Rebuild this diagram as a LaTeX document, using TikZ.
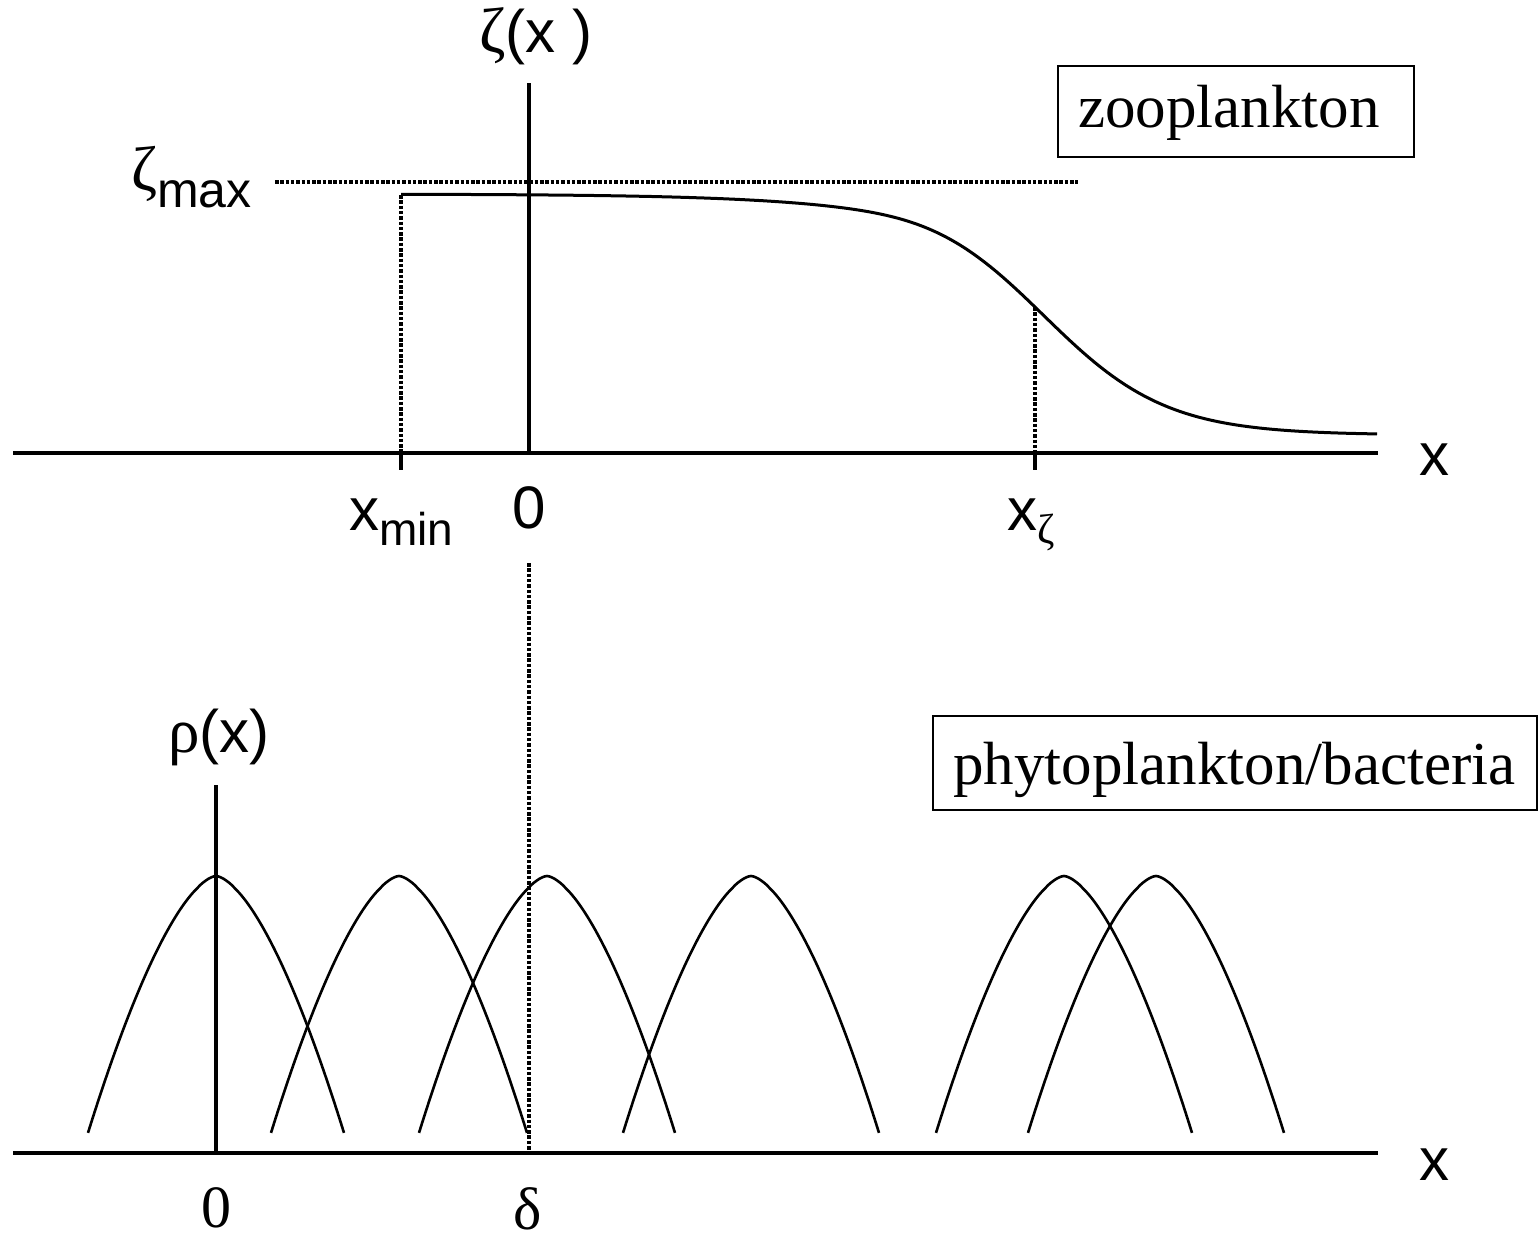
\documentclass[tikz,border=0pt]{standalone}
\usepackage{fontspec}
\setmainfont{Liberation Serif}
\newfontfamily\sansf{Liberation Sans}
\begin{document}
\begin{tikzpicture}[x=1pt,y=-1pt,
  declare function={
    sp(\z)=max(\z,0)+ln(1+exp(-abs(\z)));
    lz(\x)=0.124-0.0162*(\x-1035)-0.216*(sp((900-\x)/30)-0.011);
    zc(\x)=435-241/(1+exp(-lz(\x)));
    bl(\x)=1153-277*(1-pow(abs(\x)/134.2+0.0001,1.6));
  },
  axisline/.style={line width=4pt},
  dotline/.style={line width=3.4pt, dash pattern=on 3.5pt off 1.8pt},
  curveline/.style={line width=3pt, line join=round},
  bell/.style={line width=2.6pt, line join=round},
  sanslab/.style={font=\sansf\fontsize{60}{72}\selectfont, inner sep=0pt, anchor=base},
  serlab/.style={font=\fontsize{60}{72}\selectfont, inner sep=0pt, anchor=base, text depth=0pt},
  boxlab/.style={font=\fontsize{61}{72}\selectfont, inner sep=0pt, anchor=base},
  frame/.style={draw, line width=1.5pt}]
\useasboundingbox (0,0) rectangle (1539,1236);

% ---------- top panel: zooplankton ----------
\coordinate (tL) at (13,453);
\coordinate (tR) at (1378,453);
\coordinate (tO) at (529,453);
\coordinate (tTop) at (529,83);
\draw[axisline] (tL) -- (tR);
\draw[axisline] (tO) -- (tTop);

\coordinate (zmL) at (275,182);
\coordinate (zmR) at (1078,182);
\draw[dotline] (zmL) -- (zmR);

\coordinate (xminTop) at (401,195);
\coordinate (xminAx) at (401,453);
\coordinate (xminTick) at (401,470);
\draw[dotline] (xminTop) -- (xminAx);
\draw[axisline] (xminAx) -- (xminTick);

\coordinate (xzTop) at (1035,307);
\coordinate (xzAx) at (1035,453);
\coordinate (xzTick) at (1035,470);
\draw[dotline] (xzTop) -- (xzAx);
\draw[axisline] (xzAx) -- (xzTick);

\draw[curveline] plot[domain=401:1377, samples=160] (\x,{zc(\x)});

\node[sanslab] (zlab) at (536,53) {{\rmfamily\fontsize{64}{72}\selectfont ζ}(x\ )};
\node[sanslab, anchor=base west] (zmax) at (131,190) {{\rmfamily\fontsize{63}{72}\selectfont ζ}\raisebox{-17pt}{\fontsize{50}{60}\selectfont max}};
\node[sanslab, anchor=base west] (xmin) at (349,530) {x\raisebox{-15pt}{\fontsize{46}{52}\selectfont min}};
\node[sanslab] (zero1) at (529,528) {0};
\node[sanslab, anchor=base west] (xz) at (1007,530) {x\raisebox{-13pt}{\rmfamily\fontsize{42}{50}\selectfont ζ}};
\node[sanslab] (xa1) at (1434,475) {x};

\draw[frame] (1058,66) rectangle (1414,157);
\node[boxlab] (zoo) at (1229,128) {zooplankton};

% ---------- middle dotted link ----------
\coordinate (midTop) at (529,563);
\coordinate (midBot) at (529,1150);
\draw[dotline] (midTop) -- (midBot);

% ---------- bottom panel: phytoplankton ----------
\coordinate (bL) at (13,1153);
\coordinate (bR) at (1378,1153);
\coordinate (bO) at (216,1153);
\coordinate (bTop) at (216,785);
\draw[axisline] (bL) -- (bR);
\draw[axisline] (bO) -- (bTop);

\foreach \c in {216,399,547,751,1064,1156}
  \draw[bell] plot[domain=-128:128, samples=97, smooth] ({\c+\x},{bl(\x)});

\node[sanslab] (rholab) at (219,752) {{\rmfamily\fontsize{63}{72}\selectfont ρ}(x)};
\node[serlab] (zero2) at (216,1227) {0};
\node[serlab] (delta) at (528,1229) {δ};
\node[sanslab] (xa2) at (1434,1180) {x};

\draw[frame] (933,716) rectangle (1537,810);
\node[boxlab] (phyto) at (1234.5,784) {phytoplankton/bacteria};
\end{tikzpicture}
\end{document}
